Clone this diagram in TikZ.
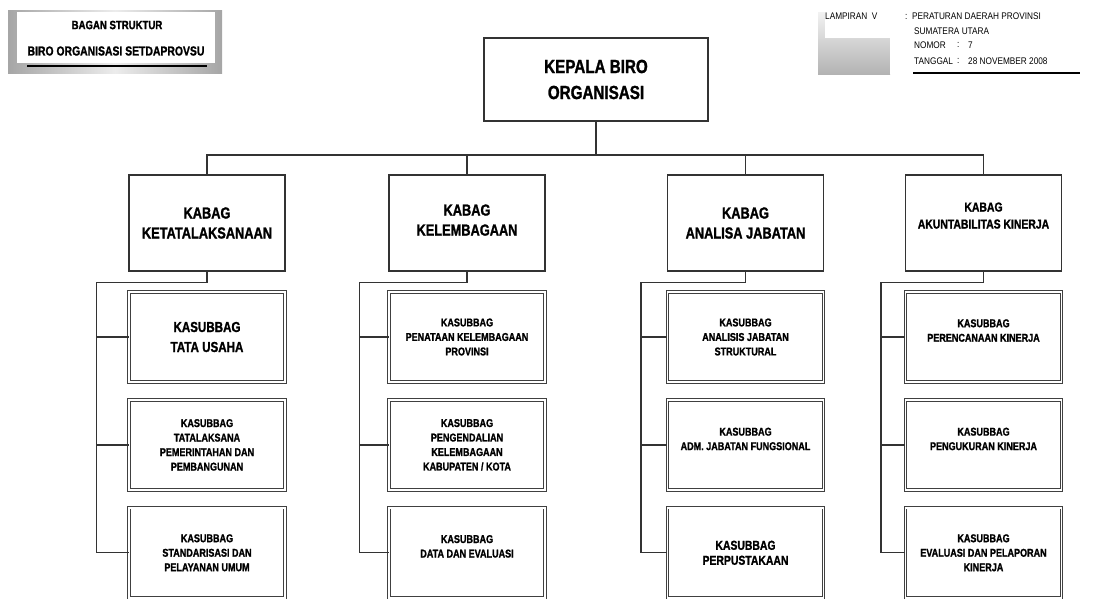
\documentclass[tikz,border=0pt]{standalone}
\usepackage{fontspec}
\setmainfont{Liberation Sans}
\newfontfamily\orgfont[FakeStretch=0.8,FakeBold=1.3]{Liberation Sans Bold}
\newfontfamily\lampfont[FakeStretch=0.86]{Liberation Sans}
\usetikzlibrary{positioning,calc}

\tikzset{
  kepalabox/.style={draw=black!80,line width=1.1pt,fill=white,minimum width=224,minimum height=83,align=center,font=\orgfont\fontsize{19}{26}\selectfont},
  kabagbox/.style={draw=black!80,line width=1.1pt,fill=white,minimum width=156,minimum height=96,align=center,font=\orgfont\fontsize{16}{20}\selectfont},
  subbox/.style={draw=black!75,line width=0.9pt,double=white,double distance=1.4pt,fill=white,minimum width=156,minimum height=90,align=center,font=\orgfont\fontsize{11.3}{14.5}\selectfont},
  bigsub/.style={font=\orgfont\fontsize{14.5}{20}\selectfont},
  link/.style={draw=black!80,line width=1.2pt},
  lampiran/.style={anchor=west,inner sep=0pt,font=\lampfont\fontsize{9.6}{11}\selectfont}
}

\begin{document}
\begin{tikzpicture}[x=1pt,y=-1pt]
\useasboundingbox (0,0) rectangle (1094,598);
\clip (0,0) rectangle (1094,598);

% judul kiri atas
\shade[left color=gray!70,right color=gray!70,middle color=gray!15] (8,10) rectangle (222,73);
\fill[white] (17,12) rectangle (215,63);
\node[font=\orgfont\fontsize{12}{14}\selectfont] (judul) at (117,25) {BAGAN STRUKTUR};
\node[font=\orgfont\fontsize{13}{15}\selectfont] (biro) at (116,51) {BIRO ORGANISASI SETDAPROVSU};
\draw[line width=1.4pt] (27,66) -- (207,66);

% lampiran kanan atas
\shade[top color=gray!10,bottom color=gray!60] (818,12) rectangle (890,74);
\fill[white] (825,12) rectangle (1094,38);
\fill[white] (890,38) rectangle (1094,74);
\node[lampiran] (lamp) at (825,16) {LAMPIRAN\ \ V};
\node[lampiran] (perda) at (905,16) {:\ \ PERATURAN DAERAH PROVINSI};
\node[lampiran] (sumut) at (914,31) {SUMATERA UTARA};
\node[lampiran] (nomor) at (914,45) {NOMOR};
\node[lampiran] (nomorcolon) at (957,45) {:};
\node[lampiran] (nomorval) at (968,45) {7};
\node[lampiran] (tanggal) at (914,61) {TANGGAL};
\node[lampiran] (tanggalcolon) at (957,61) {:};
\node[lampiran] (tanggalval) at (968,61) {28 NOVEMBER 2008};
\draw[line width=1.4pt] (913,73) -- (1080,73);

% kepala dan kabag
\node[kepalabox] (kepala) at (596,79.5) {KEPALA BIRO\\ORGANISASI};
\node[kabagbox] (ketatalaksanaan) at (207,223) {KABAG\\KETATALAKSANAAN};
\node[kabagbox] (kelembagaan) at (467,223) {KABAG\\KELEMBAGAAN\\[-14pt]};
\node[kabagbox] (analisa) at (745.5,223) {KABAG\\ANALISA JABATAN};
\node[kabagbox,font=\orgfont\fontsize{13}{17}\selectfont] (akuntabilitas) at (983.5,223) {KABAG\\AKUNTABILITAS KINERJA\\[-2pt]};

% kasubbag
\node[subbox,bigsub] (tatausaha) [below=20pt of ketatalaksanaan] {KASUBBAG\\TATA USAHA};
\node[subbox] (tatalaksana) [below=17pt of tatausaha] {KASUBBAG\\TATALAKSANA\\PEMERINTAHAN DAN\\PEMBANGUNAN};
\node[subbox] (standarisasi) [below=17pt of tatalaksana] {KASUBBAG\\STANDARISASI DAN\\PELAYANAN UMUM};

\node[subbox] (penataan) [below=20pt of kelembagaan] {KASUBBAG\\PENATAAN KELEMBAGAAN\\PROVINSI};
\node[subbox] (pengendalian) [below=17pt of penataan] {KASUBBAG\\PENGENDALIAN\\KELEMBAGAAN\\KABUPATEN / KOTA};
\node[subbox] (dataevaluasi) [below=17pt of pengendalian] {KASUBBAG\\DATA DAN EVALUASI\\[-1.5pt]};

\node[subbox] (analisis) [below=20pt of analisa] {KASUBBAG\\ANALISIS JABATAN\\STRUKTURAL};
\node[subbox] (fungsional) [below=17pt of analisis] {KASUBBAG\\ADM. JABATAN FUNGSIONAL\\[-2.5pt]};
\node[subbox,font=\orgfont\fontsize{13}{15}\selectfont] (perpustakaan) [below=17pt of fungsional] {KASUBBAG\\PERPUSTAKAAN};

\node[subbox] (perencanaan) [below=20pt of akuntabilitas] {KASUBBAG\\PERENCANAAN KINERJA\\[-1.5pt]};
\node[subbox] (pengukuran) [below=17pt of perencanaan] {KASUBBAG\\PENGUKURAN KINERJA\\[-2.5pt]};
\node[subbox] (pelaporan) [below=17pt of pengukuran] {KASUBBAG\\EVALUASI DAN PELAPORAN\\KINERJA};

% garis komando
\coordinate (bus) at (596,155);
\draw[link] (kepala.south) -- (bus);
\draw[link] (ketatalaksanaan.north) |- (bus) -| (akuntabilitas.north);
\draw[link] (kelembagaan.north) -- (kelembagaan.north |- bus);
\draw[link] (analisa.north) -- (analisa.north |- bus);

\coordinate (spine1) at ($(ketatalaksanaan.south west)+(-32,11)$);
\coordinate (spine2) at ($(kelembagaan.south west)+(-29,11)$);
\coordinate (spine3) at ($(analisa.south west)+(-26,11)$);
\coordinate (spine4) at ($(akuntabilitas.south west)+(-24,11)$);

\draw[link] (ketatalaksanaan.south) |- (spine1) |- (tatausaha.west);
\draw[link] (spine1) |- (tatalaksana.west);
\draw[link] (spine1) |- (standarisasi.west);
\draw[link] (kelembagaan.south) |- (spine2) |- (penataan.west);
\draw[link] (spine2) |- (pengendalian.west);
\draw[link] (spine2) |- (dataevaluasi.west);
\draw[link] (analisa.south) |- (spine3) |- (analisis.west);
\draw[link] (spine3) |- (fungsional.west);
\draw[link] (spine3) |- (perpustakaan.west);
\draw[link] (akuntabilitas.south) |- (spine4) |- (perencanaan.west);
\draw[link] (spine4) |- (pengukuran.west);
\draw[link] (spine4) |- (pelaporan.west);
\end{tikzpicture}
\end{document}
